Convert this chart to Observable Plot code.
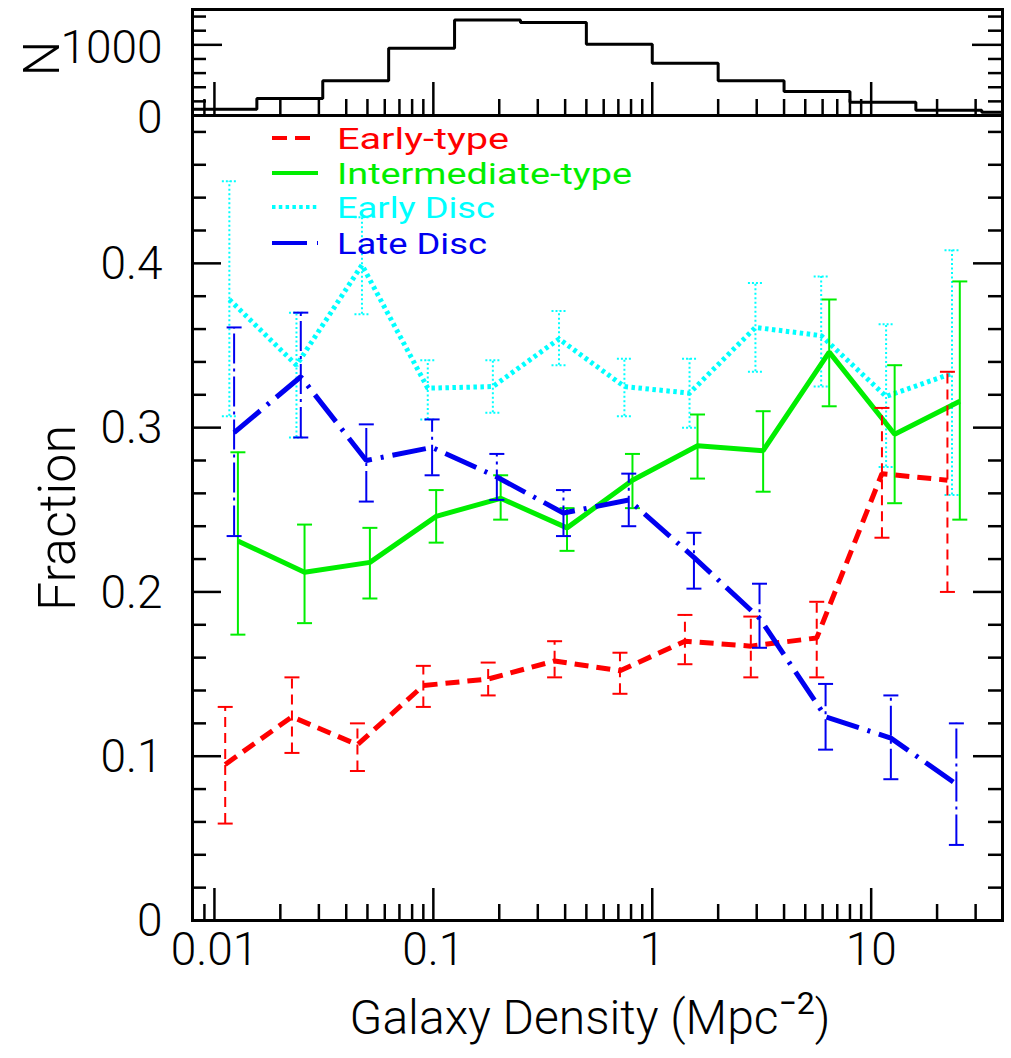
<!DOCTYPE html>
<html>
<head>
<meta charset="utf-8">
<script src="https://cdn.jsdelivr.net/npm/d3@7"></script>
<script src="https://cdn.jsdelivr.net/npm/@observablehq/plot@0.6"></script>
<style>
  html, body { margin: 0; padding: 0; background: #fff; }
  #chart { position: relative; width: 1011px; height: 1058px; }
  #chart svg { position: absolute; left: 0; top: 0; }
</style>
</head>
<body>
<div id="chart"></div>
<script>
// ---- Histogram of galaxy counts per density bin (factor-of-two bins) ----
const histEdges = [0.0078125, 0.015625, 0.03125, 0.0625, 0.125, 0.25, 0.5, 1, 2, 4, 8, 16, 32, 64];
const histCounts = [90, 240, 490, 950, 1350, 1315, 1010, 740, 490, 340, 188, 75, 45];

// ---- Morphological fractions vs. local galaxy density ----
const densEarly     = [0.0112, 0.0226, 0.0450, 0.0900, 0.178, 0.358, 0.712, 1.41, 2.82, 5.64, 11.2, 22.3];
const fracEarly     = [0.095, 0.124, 0.107, 0.143, 0.147, 0.158, 0.152, 0.170, 0.167, 0.172, 0.272, 0.268];
const loEarly       = [0.059, 0.102, 0.091, 0.130, 0.137, 0.148, 0.138, 0.156, 0.148, 0.148, 0.233, 0.200];
const hiEarly       = [0.130, 0.148, 0.120, 0.155, 0.157, 0.170, 0.163, 0.186, 0.185, 0.194, 0.312, 0.334];

const densInter     = [0.0128, 0.0258, 0.0513, 0.103, 0.203, 0.408, 0.812, 1.61, 3.21, 6.43, 12.8, 25.4];
const fracInter     = [0.231, 0.212, 0.218, 0.246, 0.257, 0.239, 0.268, 0.289, 0.286, 0.346, 0.296, 0.316];
const loInter       = [0.174, 0.181, 0.196, 0.230, 0.244, 0.225, 0.251, 0.269, 0.261, 0.313, 0.254, 0.244];
const hiInter       = [0.285, 0.241, 0.239, 0.262, 0.271, 0.251, 0.284, 0.308, 0.310, 0.378, 0.338, 0.389];

const densEarlyDisc = [0.0117, 0.0237, 0.0472, 0.0943, 0.187, 0.375, 0.746, 1.48, 2.96, 5.91, 11.7, 23.4];
const fracEarlyDisc = [0.378, 0.338, 0.399, 0.324, 0.325, 0.354, 0.325, 0.321, 0.361, 0.356, 0.319, 0.333];
const loEarlyDisc   = [0.307, 0.294, 0.369, 0.305, 0.309, 0.338, 0.307, 0.300, 0.334, 0.325, 0.276, 0.259];
const hiEarlyDisc   = [0.450, 0.370, 0.428, 0.341, 0.341, 0.371, 0.342, 0.342, 0.388, 0.392, 0.363, 0.408];

const densLateDisc  = [0.0123, 0.0248, 0.0494, 0.0987, 0.195, 0.393, 0.781, 1.55, 3.09, 6.19, 12.3, 24.5];
const fracLateDisc  = [0.297, 0.331, 0.280, 0.288, 0.270, 0.248, 0.256, 0.221, 0.184, 0.124, 0.111, 0.083];
const loLateDisc    = [0.234, 0.294, 0.255, 0.271, 0.256, 0.234, 0.240, 0.202, 0.166, 0.104, 0.086, 0.046];
const hiLateDisc    = [0.361, 0.370, 0.302, 0.305, 0.284, 0.262, 0.272, 0.236, 0.205, 0.144, 0.137, 0.120];

// ---- Axis ticks and labels ----
const xMajorTicks = [0.01, 0.1, 1, 10];
const xMajorLabels = ["0.01", "0.1", "1", "10"];
const fracMajorTicks = [0, 0.1, 0.2, 0.3, 0.4];
const fracMajorLabels = ["0", "0.1", "0.2", "0.3", "0.4"];
const countMajorTicks = [0, 1000];
const countMajorLabels = ["0", "1000"];

// minor ticks: 2..9 times each decade, plus 0.009 at the left end
const xMinorTicks = [0.009];
for (const dec of [0.01, 0.1, 1, 10]) for (let k = 2; k <= 9; k++) if (dec * k < 40) xMinorTicks.push(dec * k);
const fracMinorTicks = d3.range(1, 25).map(i => i * 0.02).filter(v => Math.abs(v * 10 - Math.round(v * 10)) > 1e-6);
const countMinorTicks = [200, 400, 600, 800, 1200, 1400];

const FONT = "Roboto, 'Noto Sans', 'DejaVu Sans', sans-serif";
const W = 1011;
const xDomain = [0.00794, 39.8];
const ML = 192, MR = 9;
const FW = W - ML - MR;

// ---- series styling ----
const CYAN = "#00ffff", GREEN = "#00ee00", RED = "#ff0000", BLUE = "#0000f0";
const series = [
  {name: "Early Disc", color: CYAN, dens: densEarlyDisc, frac: fracEarlyDisc, lo: loEarlyDisc, hi: hiEarlyDisc,
   lineDash: "3.5,3.5", errDash: "2,2.5", capDash: "2,2"},
  {name: "Intermediate-type", color: GREEN, dens: densInter, frac: fracInter, lo: loInter, hi: hiInter,
   lineDash: null, errDash: null, capDash: null},
  {name: "Early-type", color: RED, dens: densEarly, frac: fracEarly, lo: loEarly, hi: hiEarly,
   lineDash: "14,8", errDash: "10,6", capDash: null},
  {name: "Late Disc", color: BLUE, dens: densLateDisc, frac: fracLateDisc, lo: loLateDisc, hi: hiLateDisc,
   lineDash: "34,9,3,9", errDash: "30,5,3,5", capDash: null}
];

// flat horizontal cap for error bars
const capSymbol = {draw(ctx) { ctx.moveTo(-7.5, 0); ctx.lineTo(7.5, 0); }};

function tickRules(vals, axis, len, frameLen, width) {
  if (axis === "y") {
    return [
      Plot.ruleY(vals, {y: d => d, insetRight: frameLen - len, stroke: "black", strokeWidth: width}),
      Plot.ruleY(vals, {y: d => d, insetLeft: frameLen - len, stroke: "black", strokeWidth: width})
    ];
  }
  return [Plot.ruleX(vals, {x: d => d, insetTop: frameLen - len, stroke: "black", strokeWidth: width})];
}

// ---- main panel ----
const MT = 115, MB = 138, H = 1058;
const FH = H - MT - MB;

const seriesMarks = [];
for (const s of series) {
  const rows = s.dens.map((d, i) => ({dens: d, frac: s.frac[i], lo: s.lo[i], hi: s.hi[i]}));
  seriesMarks.push(
    Plot.ruleX(rows, {x: "dens", y1: "lo", y2: "hi", stroke: s.color, strokeWidth: 2,
      strokeDasharray: s.errDash, strokeLinecap: "butt"}),
    Plot.dot(rows, {x: "dens", y: "lo", symbol: capSymbol, fill: "none", stroke: s.color, strokeWidth: 2,
      strokeDasharray: s.capDash, strokeLinecap: "butt"}),
    Plot.dot(rows, {x: "dens", y: "hi", symbol: capSymbol, fill: "none", stroke: s.color, strokeWidth: 2,
      strokeDasharray: s.capDash, strokeLinecap: "butt"}),
    Plot.line(rows, {x: "dens", y: "frac", stroke: s.color, strokeWidth: 5,
      strokeDasharray: s.lineDash, strokeLinecap: "butt", strokeLinejoin: "miter"})
  );
}

const mainPlot = Plot.plot({
  width: W, height: H,
  marginLeft: ML, marginRight: MR, marginTop: MT, marginBottom: MB,
  style: {fontFamily: FONT, fontWeight: 300, background: "transparent", overflow: "visible"},
  x: {type: "log", domain: xDomain, axis: null},
  y: {domain: [0, 0.49], axis: null},
  marks: [
    ...seriesMarks,
    ...tickRules(fracMajorTicks, "y", 29, FW, 2.5),
    ...tickRules(fracMinorTicks, "y", 14, FW, 2.5),
    ...tickRules(xMajorTicks, "x", 32, FH, 2.5),
    ...tickRules(xMinorTicks, "x", 16, FH, 2.5),
    Plot.frame({stroke: "black", strokeWidth: 3}),
    Plot.text(xMajorTicks, {x: d => d, text: (d, i) => xMajorLabels[i], frameAnchor: "bottom", dy: 44, fontSize: 46, fill: "black"}),
    Plot.text(fracMajorTicks, {y: d => d, text: (d, i) => fracMajorLabels[i], frameAnchor: "left", dx: -30, dy: 1, textAnchor: "end", fontSize: 46, fill: "black"}),
    Plot.text(["Fraction"], {frameAnchor: "left", dx: -134, textAnchor: "middle", rotate: -90, fontSize: 52, fill: "black"})
  ]
});

// x-axis title with superscript
const msvg = d3.select(mainPlot);
const xt = msvg.append("text")
  .attr("x", 590).attr("y", 1034)
  .attr("text-anchor", "middle")
  .attr("font-family", FONT).attr("font-weight", 300).attr("font-size", 48)
  .attr("fill", "black")
  .text("Galaxy Density (Mpc");
xt.append("tspan").attr("font-size", 32).attr("font-weight", 400).attr("dy", -20).text("\u22122");
xt.append("tspan").attr("font-size", 48).attr("dy", 20).text(")");

// legend
const legendRows = [
  {name: "Early-type", color: RED, dash: "15,8", len: 172},
  {name: "Intermediate-type", color: GREEN, dash: null, len: 295},
  {name: "Early Disc", color: CYAN, dash: "3.5,3.3", len: 158},
  {name: "Late Disc", color: BLUE, dash: "35,10,3,100", len: 150}
];
const legendY = [138, 173, 207, 243];
const lg = msvg.append("g");
legendRows.forEach((r, i) => {
  lg.append("line")
    .attr("x1", 272).attr("x2", 318).attr("y1", legendY[i]).attr("y2", legendY[i])
    .attr("stroke", r.color).attr("stroke-width", 4)
    .attr("stroke-dasharray", r.dash);
  lg.append("text")
    .attr("x", 337).attr("y", legendY[i]).attr("dy", "0.36em")
    .attr("text-anchor", "start")
    .attr("font-family", FONT).attr("font-weight", 400).attr("font-size", 29.5)
    .attr("textLength", r.len).attr("lengthAdjust", "spacingAndGlyphs")
    .attr("fill", r.color)
    .text(r.name);
});

// ---- histogram panel ----
const TT = 9, TB = 15, TH = 130;
const TFH = TH - TT - TB;
const histRows = histEdges.map((e, i) => ({edge: e, n: histCounts[Math.min(i, histCounts.length - 1)]}));

const histPlot = Plot.plot({
  width: W, height: TH,
  marginLeft: ML, marginRight: MR, marginTop: TT, marginBottom: TB,
  style: {fontFamily: FONT, fontWeight: 300, background: "transparent", overflow: "visible"},
  x: {type: "log", domain: xDomain, axis: null},
  y: {domain: [0, 1500], axis: null},
  marks: [
    Plot.line(histRows, {x: "edge", y: "n", curve: "step-after", stroke: "black", strokeWidth: 3,
      strokeLinejoin: "miter", clip: true}),
    ...tickRules(countMajorTicks, "y", 30, FW, 2.5),
    ...tickRules(countMinorTicks, "y", 14, FW, 2.5),
    ...tickRules(xMajorTicks, "x", 33, TFH, 2.5),
    ...tickRules(xMinorTicks, "x", 16, TFH, 2.5),
    Plot.frame({stroke: "black", strokeWidth: 3}),
    Plot.text(countMajorTicks, {y: d => d, text: (d, i) => countMajorLabels[i], frameAnchor: "left", dx: -30, dy: 3, textAnchor: "end", fontSize: 46, fill: "black"}),
    Plot.text(["N"], {frameAnchor: "left", dx: -150, dy: -4, textAnchor: "middle", rotate: -90, fontSize: 50, fill: "black"})
  ]
});

const chart = document.getElementById("chart");
chart.appendChild(mainPlot);
chart.appendChild(histPlot);
</script>
</body>
</html>
